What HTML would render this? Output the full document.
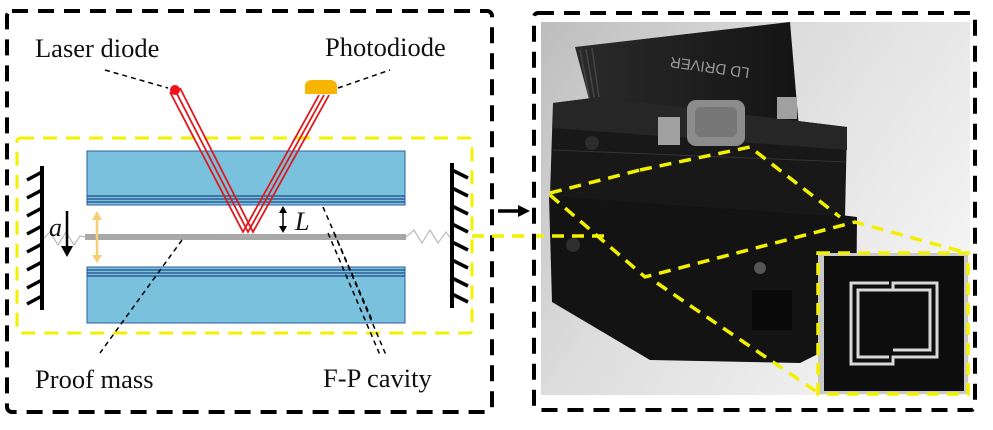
<!DOCTYPE html>
<html><head><meta charset="utf-8"><style>
html,body{margin:0;padding:0;background:#fff;width:993px;height:430px;overflow:hidden}
svg{display:block}
text{font-family:"Liberation Serif",serif;fill:#111}
</style></head><body>
<svg width="993" height="430" viewBox="0 0 993 430">
<defs>
<linearGradient id="bg" x1="0" y1="0" x2="1" y2="0.6"><stop offset="0" stop-color="#bdbdbd"/><stop offset="0.45" stop-color="#dcdcdc"/><stop offset="1" stop-color="#f3f3f3"/></linearGradient>
<linearGradient id="hs" x1="0" y1="0" x2="1" y2="0"><stop offset="0" stop-color="#2a2a2a"/><stop offset="1" stop-color="#141414"/></linearGradient>
</defs>
<!-- left panel box -->
<rect x="7" y="11" width="485" height="401" rx="5" fill="none" stroke="#000" stroke-width="4" stroke-dasharray="16,10"/>
<!-- yellow box -->
<rect x="17" y="138" width="455" height="195" rx="3" fill="none" stroke="#f2f200" stroke-width="3" stroke-dasharray="14,9"/>
<!-- plates -->
<rect x="87" y="151" width="318" height="54" fill="#79c1dc" stroke="#2b5ea3" stroke-width="1"/>
<line x1="87" y1="196" x2="405" y2="196" stroke="#1f4b86" stroke-width="1.2"/>
<line x1="87" y1="199" x2="405" y2="199" stroke="#1f4b86" stroke-width="1.2"/>
<line x1="87" y1="202" x2="405" y2="202" stroke="#1f4b86" stroke-width="1.2"/>
<rect x="87" y="267" width="318" height="56" fill="#79c1dc" stroke="#2b5ea3" stroke-width="1"/>
<line x1="87" y1="270" x2="405" y2="270" stroke="#1f4b86" stroke-width="1.2"/>
<line x1="87" y1="273" x2="405" y2="273" stroke="#1f4b86" stroke-width="1.2"/>
<line x1="87" y1="276" x2="405" y2="276" stroke="#1f4b86" stroke-width="1.2"/>
<!-- proof mass -->
<rect x="85" y="234" width="321" height="6" fill="#a8a8a8"/>
<!-- springs -->
<polyline points="42,240 50,232 58,245 66,232 74,245 80,236 86,237" fill="none" stroke="#bbb" stroke-width="1.2"/>
<polyline points="406,237 414,230 422,243 430,230 438,243 446,232 452,240" fill="none" stroke="#bbb" stroke-width="1.2"/>
<!-- walls -->
<line x1="42" y1="166" x2="42" y2="310" stroke="#000" stroke-width="4"/>
<g stroke="#000" stroke-width="3.5">
<line x1="42" y1="172" x2="27" y2="180"/><line x1="42" y1="190" x2="27" y2="198"/><line x1="42" y1="208" x2="27" y2="216"/><line x1="42" y1="226" x2="27" y2="234"/><line x1="42" y1="244" x2="27" y2="252"/><line x1="42" y1="262" x2="27" y2="270"/><line x1="42" y1="280" x2="27" y2="288"/><line x1="42" y1="296" x2="27" y2="304"/>
</g>
<line x1="452" y1="163" x2="452" y2="308" stroke="#000" stroke-width="4"/>
<g stroke="#000" stroke-width="3.5">
<line x1="452" y1="170" x2="468" y2="178"/><line x1="452" y1="188" x2="468" y2="196"/><line x1="452" y1="206" x2="468" y2="214"/><line x1="452" y1="224" x2="468" y2="232"/><line x1="452" y1="242" x2="468" y2="250"/><line x1="452" y1="260" x2="468" y2="268"/><line x1="452" y1="278" x2="468" y2="286"/><line x1="452" y1="294" x2="468" y2="302"/>
</g>
<!-- laser beams -->
<g fill="none" stroke="#e0181b" stroke-width="1.8">
<polyline points="170,92 243,232 319,95"/>
<polyline points="175,90 248,232 324,95"/>
<polyline points="180,88 253,232 329,95"/>
</g>
<circle cx="175" cy="90" r="5" fill="#f0131b"/>
<path d="M305,94 L305,85 Q306,80 312,80 L330,80 Q337,80 337,87 L337,94 Z" fill="#f7b500"/>
<!-- leaders -->
<g stroke="#000" stroke-width="1.5" stroke-dasharray="5,4" fill="none">
<line x1="105" y1="70" x2="168" y2="88"/>
<line x1="338" y1="88" x2="390" y2="70"/>
<line x1="182" y1="240" x2="100" y2="353"/>
<line x1="323" y1="207" x2="372" y2="320"/>
<line x1="328" y1="233" x2="380" y2="355"/>
<line x1="334" y1="233" x2="386" y2="355"/>
</g>
<!-- a arrow -->
<line x1="67" y1="211" x2="67" y2="248" stroke="#000" stroke-width="2.5"/>
<polygon points="61,246 73,246 67,257" fill="#000"/>
<text x="49" y="236" font-size="26" font-style="italic">a</text>
<!-- yellow double arrow -->
<line x1="97" y1="218" x2="97" y2="257" stroke="#f6cf72" stroke-width="2.5"/>
<polygon points="92,220 102,220 97,211" fill="#f6cf72"/>
<polygon points="92,255 102,255 97,263" fill="#f6cf72"/>
<!-- L arrow -->
<line x1="283" y1="211" x2="283" y2="228" stroke="#000" stroke-width="1.5"/>
<polygon points="279,213 287,213 283,206" fill="#000"/>
<polygon points="279,226 287,226 283,233" fill="#000"/>
<text x="295" y="230" font-size="26" font-style="italic">L</text>
<!-- labels -->
<text x="35" y="57" font-size="26.5">Laser diode</text>
<text x="325" y="56" font-size="26.5">Photodiode</text>
<text x="35" y="388" font-size="26.5">Proof mass</text>
<text x="323" y="387" font-size="26.5">F-P cavity</text>
<!-- right panel photo -->
<rect x="541" y="22" width="429" height="373" fill="url(#bg)"/>
<!-- heatsink -->
<polygon points="575,47 790,22 800,140 600,140" fill="url(#hs)"/>
<g stroke="#444" stroke-width="1.5"><line x1="580" y1="50" x2="596" y2="132"/><line x1="586" y1="49" x2="600" y2="132"/><line x1="592" y1="48" x2="604" y2="132"/></g>
<text x="0" y="0" font-size="15" style="font-family:'Liberation Sans',sans-serif;fill:#9a9a9a" transform="translate(750,68) rotate(188)">LD DRIVER</text>
<!-- lower block -->
<polygon points="549,196 600,186 857,217 856,335 800,363 650,360 552,302" fill="#131313"/>
<!-- upper block -->
<polygon points="553,103 600,97 847,127 845,217 600,200 550,195" fill="#181818"/>
<polygon points="553,103 600,97 847,127 847,150 553,128" fill="#262626"/>
<line x1="553" y1="150" x2="846" y2="162" stroke="#333" stroke-width="1"/>
<rect x="687" y="100" width="58" height="46" rx="9" fill="#8c8c8c"/>
<rect x="695" y="107" width="42" height="30" rx="6" fill="#777"/>
<rect x="658" y="117" width="22" height="28" fill="#a0a0a0"/>
<rect x="777" y="97" width="20" height="22" fill="#a0a0a0"/>
<circle cx="592" cy="143" r="7" fill="#2c2c2c"/>
<circle cx="573" cy="245" r="7" fill="#2e2e2e"/>
<circle cx="760" cy="268" r="6" fill="#555"/>
<rect x="752" y="290" width="40" height="40" fill="#0a0a0a"/>
<!-- yellow zoom lines -->
<g stroke="#f2f200" stroke-width="3.5" stroke-dasharray="12,8" fill="none">
<polyline points="640,170 750,147 840,217"/>
<polyline points="550,193 640,170"/>
<polyline points="550,195 645,277 855,222 967,253"/>
<line x1="657" y1="283" x2="817" y2="392"/>
<line x1="472" y1="236" x2="610" y2="236"/>
</g>
<!-- inset -->
<rect x="818" y="253" width="150" height="141" fill="#c8c8c8"/>
<rect x="824" y="256" width="140" height="135" fill="#0d0d0d"/>
<rect x="818" y="253" width="150" height="141" fill="none" stroke="#f2f200" stroke-width="3.5" stroke-dasharray="12,8"/>
<g fill="none" stroke="#d8d8d8" stroke-width="3">
<polyline points="889,283 851,283 851,364 893,364 893,357 937,357 937,283 893,283 893,290 858,290 858,357 889,357"/>
<polyline points="893,290 930,290 930,350 893,350"/>
</g>
<rect x="534" y="13" width="441" height="397" rx="4" fill="none" stroke="#000" stroke-width="4" stroke-dasharray="16,10"/>
<!-- black arrow -->
<line x1="498" y1="211" x2="520" y2="211" stroke="#000" stroke-width="3.5"/>
<polygon points="518,205 530,211 518,217" fill="#000"/>
</svg>
</body></html>
